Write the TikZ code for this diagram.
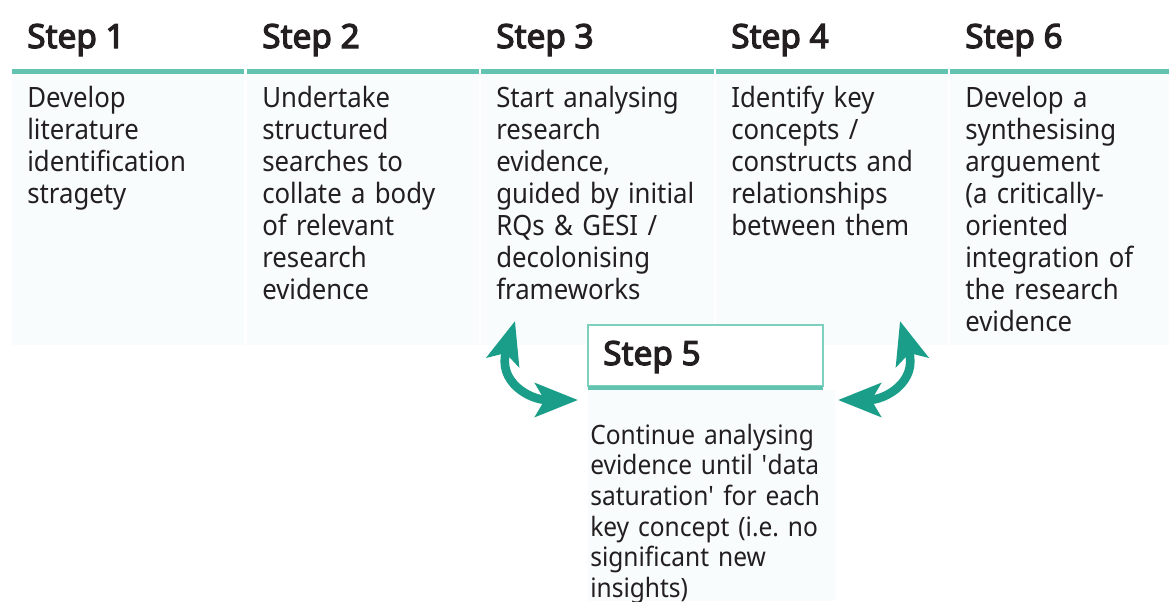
\documentclass[tikz,border=0pt]{standalone}
\usepackage{fontspec}
\setmainfont{Noto Sans}[FakeStretch=0.92]
\newfontfamily\headfont{Noto Sans}[FakeBold=3.6]
\usetikzlibrary{positioning, arrows.meta}
\definecolor{tealline}{RGB}{98,196,176}
\definecolor{tealedge}{RGB}{125,208,190}
\definecolor{tealarrow}{RGB}{26,158,138}
\definecolor{colbg}{RGB}{248,252,252}
\definecolor{ink}{RGB}{35,31,32}
\tikzset{ head/.style={font=\headfont\fontsize{25}{28}\selectfont,
            text=ink, anchor=base west, inner sep=0pt},
          body/.style={font=\fontsize{21}{24}\selectfont, text=ink,
            anchor=base west, inner sep=0pt, align=left, text width=250pt},
          loop/.style={tealarrow, line width=6.5pt,
            {Stealth[length=32pt,width=25pt,inset=7pt]}-{Stealth[length=32pt,width=25pt,inset=7pt]}}}

\begin{document}
\frenchspacing
\begin{tikzpicture}[x=0.75pt,y=-0.75pt]
\useasboundingbox (0,0) rectangle (1169,601);
\fill[white] (0,0) rectangle (1169,601);

% columns: left edge / right edge / step
\foreach \l/\r/\n in {12/244/1, 247/479/2, 481/714/3, 716/948/4, 950/1169/6}
{
  \fill[colbg] (\l,74) rectangle (\r,345);
  \fill[tealline] (\l,69) rectangle (\r,74);
  \node[head] (head\n) at (\l+15,48) {Step \n};
}

\node[body] (body1) at (27,107) {Develop\\literature\\identification\\stragety};
\node[body] (body2) at (262,107) {Undertake\\structured\\searches to\\collate a body\\of relevant\\research\\evidence};
\node[body] (body3) at (496,107) {Start analysing\\research\\evidence,\\guided by initial\\RQs \& GESI /\\decolonising\\frameworks};
\node[body] (body4) at (731,107) {Identify key\\concepts /\\constructs and\\relationships\\between them};
\node[body] (body6) at (965,107) {Develop a\\synthesising\\arguement\\(a critically-\\oriented\\integration of\\the research\\evidence};

% step 5 sits under the gap between 3 and 4
\fill[colbg] (588,390) rectangle (835,601);
\draw[tealedge, line width=1.2pt, fill=white] (588,325) rectangle (823,386);
\fill[tealline] (588,386) rectangle (823,390);
\node[head] (head5) at (603,365) {Step 5};
\node[body, font=\fontsize{20}{23}\selectfont] (body5) at (590,444)
  {Continue analysing\\evidence until \textquotesingle data\\saturation\textquotesingle{} for each\\key concept (i.e. no\\significant new\\insights)};

\coordinate (up3) at (515,321);
\coordinate (in5) at (578,400);
\coordinate (up6) at (900,321);
\coordinate (out5) at (838,400);
\draw[loop] (up3) .. controls (497,382) and (530,400) .. (in5);
\draw[loop] (up6) .. controls (918,382) and (885,400) .. (out5);

\end{tikzpicture}
\end{document}
